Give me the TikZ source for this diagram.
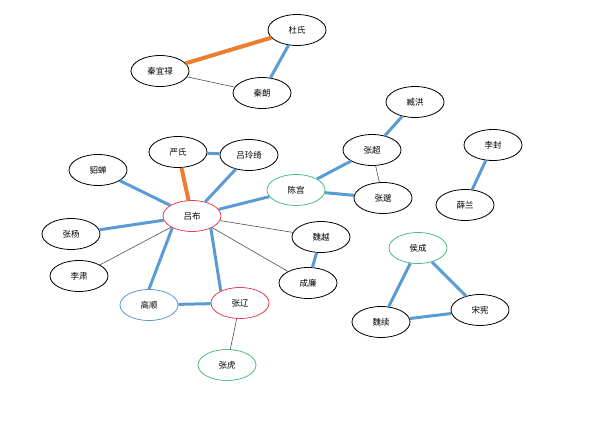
\documentclass[tikz,border=0pt]{standalone}
\usepackage{fontspec}
\usepackage{tikz}
\usetikzlibrary{shapes}
\newfontfamily\cjk{Noto Sans CJK SC}
\definecolor{rel_blue}{RGB}{91, 155, 213}
\definecolor{rel_orange}{RGB}{237, 125, 49}
\definecolor{rel_gray}{RGB}{80, 80, 80}
\definecolor{ring_red}{RGB}{232, 65, 85}
\definecolor{ring_green}{RGB}{80, 190, 130}
\tikzstyle{pn}=[ellipse,draw=black,fill=white,line width=0.8pt,inner sep=0pt,
  minimum width=58pt,minimum height=31pt,font=\cjk\fontsize{8.5}{10}\selectfont]
\tikzstyle{rpn}=[pn,draw=ring_red]
\tikzstyle{gpn}=[pn,draw=ring_green]
\tikzstyle{bpn}=[pn,draw=rel_blue]
\tikzstyle{kin}=[draw=rel_blue,line width=3pt]
\tikzstyle{wed}=[draw=rel_orange,line width=4pt]
\tikzstyle{acq}=[draw=rel_gray,line width=0.6pt]

\begin{document}
\begin{tikzpicture}[x=1pt,y=-1pt]
    \useasboundingbox (0,0) rectangle (600,421);
    %nodes
    \node [style=pn] (dushi) at (297, 30) {杜氏};
    \node [style=pn] (qinyilu) at (160, 71) {秦宜禄};
    \node [style=pn] (qinlang) at (262, 93) {秦朗};
    \node [style=pn] (yanshi) at (178, 152) {严氏};
    \node [style=pn] (lulingqi) at (249, 155) {吕玲绮};
    \node [style=pn] (diaochan) at (98, 170) {貂蝉};
    \node [style=rpn] (lubu) at (192, 216) {吕布};
    \node [style=gpn] (chengong) at (296, 190) {陈宫};
    \node [style=pn] (zanghong) at (415, 102) {臧洪};
    \node [style=pn] (zhangchao) at (372, 150) {张超};
    \node [style=pn] (zhangmiao) at (383, 198) {张邈};
    \node [style=pn] (lifeng) at (493, 145) {李封};
    \node [style=pn] (xuelan) at (465, 205) {薛兰};
    \node [style=pn] (zhangyang) at (71, 234) {张杨};
    \node [style=pn] (lisu) at (79, 276) {李肃};
    \node [style=pn] (weiyue) at (321, 237) {魏越};
    \node [style=pn] (chenglian) at (308, 283) {成廉};
    \node [style=bpn] (gaoshun) at (149, 305) {高顺};
    \node [style=rpn] (zhangliao) at (240, 303) {张辽};
    \node [style=gpn] (zhanghu) at (227, 365) {张虎};
    \node [style=gpn] (houcheng) at (418, 248) {侯成};
    \node [style=pn] (weixu) at (381, 322) {魏续};
    \node [style=pn] (songxian) at (480, 310) {宋宪};
    %edges
    \draw [style=wed] (qinyilu) to (dushi);
    \draw [style=acq] (qinyilu) to (qinlang);
    \draw [style=kin] (dushi) to (qinlang);
    \draw [style=wed] (yanshi) to (lubu);
    \draw [style=kin] (yanshi) to (lulingqi);
    \draw [style=kin] (lulingqi) to (lubu);
    \draw [style=kin] (diaochan) to (lubu);
    \draw [style=kin] (zhangyang) to (lubu);
    \draw [style=acq] (lisu) to (lubu);
    \draw [style=kin] (gaoshun.90) to (lubu.211);
    \draw [style=kin] (zhangliao.148) to (lubu.-33);
    \draw [style=acq] (weiyue) to (lubu);
    \draw [style=acq] (chenglian) to (lubu);
    \draw [style=kin] (chengong) to (lubu);
    \draw [style=kin] (weiyue) to (chenglian);
    \draw [style=kin] (gaoshun) to (zhangliao);
    \draw [style=acq] (zhangliao) to (zhanghu);
    \draw [style=kin] (chengong) to (zhangchao);
    \draw [style=kin] (chengong) to (zhangmiao);
    \draw [style=kin] (zhangchao) to (zanghong);
    \draw [style=acq] (zhangchao) to (zhangmiao);
    \draw [style=kin] (lifeng) to (xuelan);
    \draw [style=kin] (houcheng) to (weixu);
    \draw [style=kin] (houcheng) to (songxian);
    \draw [style=kin] (weixu) to (songxian);
\end{tikzpicture}
\end{document}
